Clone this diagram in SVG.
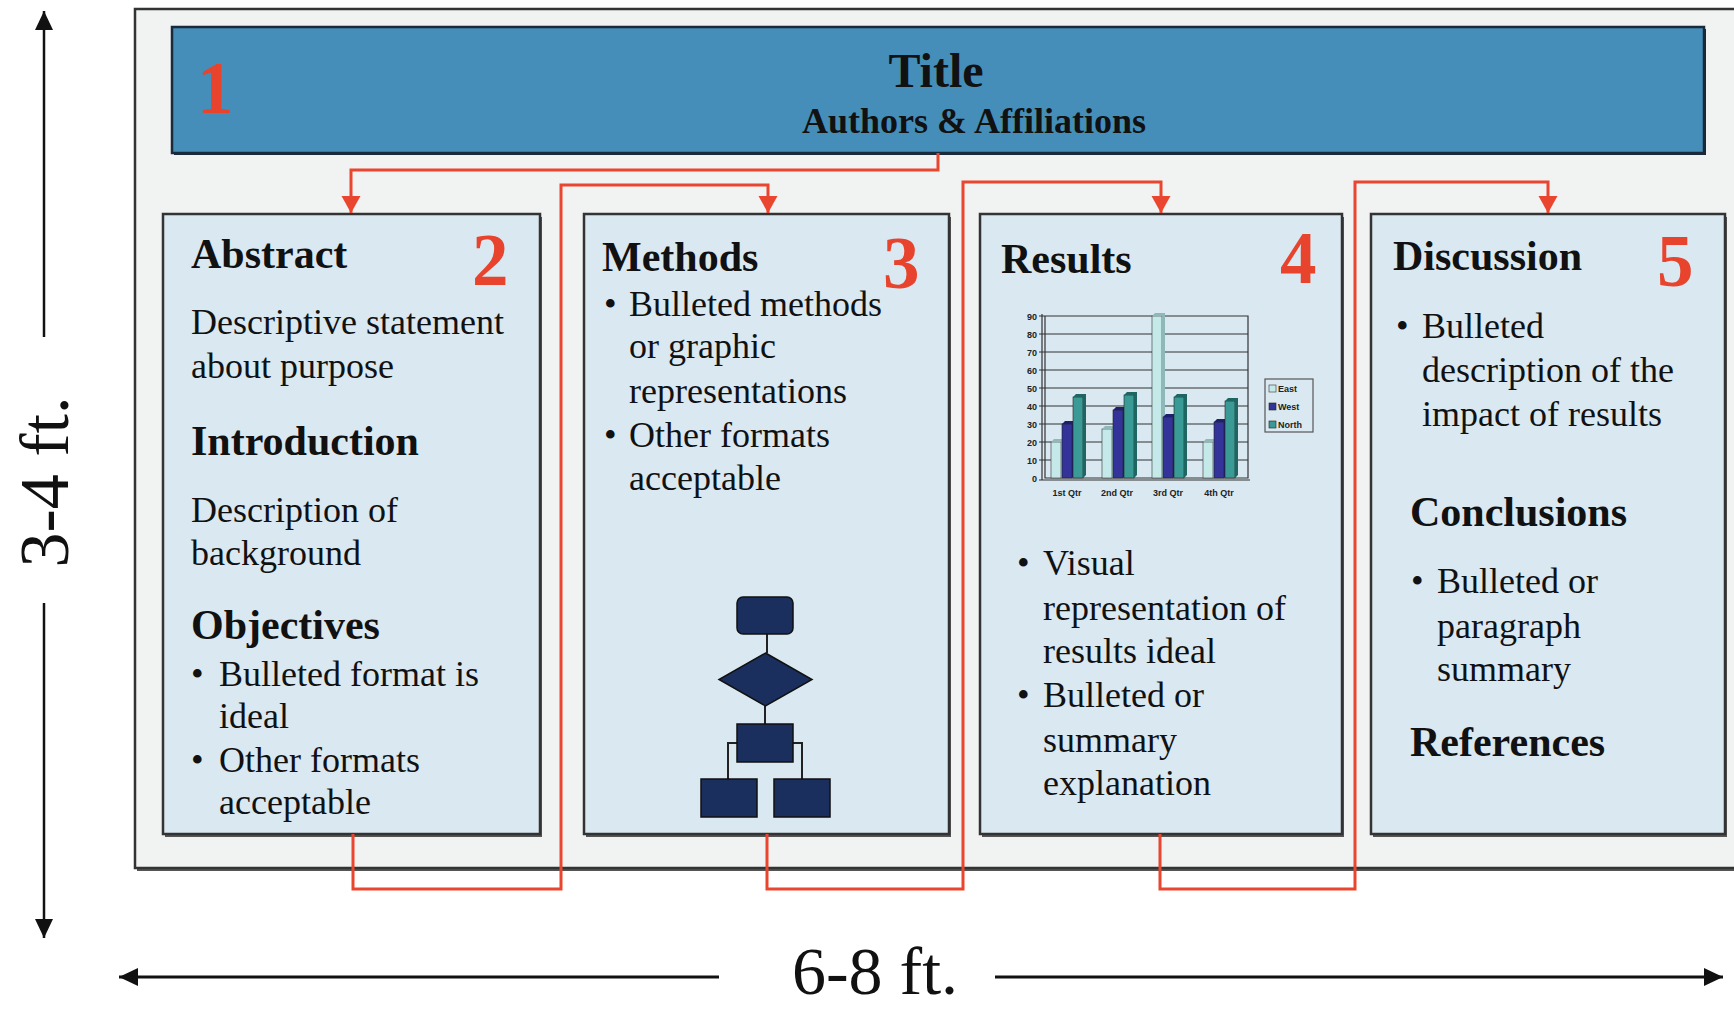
<svg xmlns="http://www.w3.org/2000/svg" width="1734" height="1009" viewBox="0 0 1734 1009">
<defs>
<style>
text{font-family:"Liberation Serif","Times New Roman",serif;fill:#111}
.h{font-weight:bold;font-size:42px}
.b{font-size:36px}
.n{font-weight:bold;font-size:73px;fill:#e8432d}
.dim{font-size:70px}
.box{fill:#d9e8f1;stroke:#333;stroke-width:2.5}
.shadow{fill:#555}
.con{fill:none;stroke:#e9452f;stroke-width:3}
.fc{fill:#1b2f5e;stroke:#111;stroke-width:1.5}
.fl{fill:none;stroke:#222;stroke-width:2}
.ct{font-family:"Liberation Sans",Arial,sans-serif;font-weight:bold;font-size:9px;fill:#222}
.grid{stroke:#333;stroke-width:1.2;fill:none}
.e{fill:#c5e8e8;stroke:#333;stroke-width:0.6}
.w{fill:#33339a;stroke:#222;stroke-width:0.6}
.nn{fill:#3a9a96;stroke:#222;stroke-width:0.6}
.ed{fill:#8fb8b8}.wd{fill:#20206a}.nd{fill:#1f6663}
</style>
<marker id="ra" markerUnits="userSpaceOnUse" markerWidth="18" markerHeight="20" refX="17" refY="9.5" orient="auto"><path d="M0,0 L17,9.5 L0,19 z" fill="#e9452f"/></marker>
<marker id="ka" markerUnits="userSpaceOnUse" markerWidth="20" markerHeight="20" refX="19" refY="9" orient="auto"><path d="M0,0 L19,9 L0,18 z" fill="#111"/></marker>
</defs>

<g id="frame">
<rect x="137" y="12" width="1620" height="859" class="shadow"/>
<rect x="135" y="9" width="1620" height="859" fill="#f1f2f2" stroke="#333" stroke-width="2.5"/>
</g>

<g id="n1">
<rect x="174" y="29" width="1532" height="126" fill="#1a2a3a"/>
<rect x="172" y="27" width="1532" height="126" fill="#458eb9" stroke="#1a2a3a" stroke-width="2.5"/>
<text x="197" y="113" class="n">1</text>
<text x="936" y="87" text-anchor="middle" font-weight="bold" font-size="48">Title</text>
<text x="974" y="133" text-anchor="middle" font-weight="bold" font-size="36">Authors &amp; Affiliations</text>
</g>

<g id="n2">
<rect x="165" y="217" width="377" height="620" class="shadow"/>
<rect x="163" y="214" width="377" height="620" class="box"/>
<text x="191" y="268" class="h">Abstract</text>
<text x="472" y="285" class="n">2</text>
<text x="191" y="334" class="b">Descriptive statement</text>
<text x="191" y="378" class="b">about purpose</text>
<text x="191" y="455" class="h">Introduction</text>
<text x="191" y="522" class="b">Description of</text>
<text x="191" y="565" class="b">background</text>
<text x="191" y="639" class="h">Objectives</text>
<text x="191" y="686" class="b">•</text>
<text x="219" y="686" class="b">Bulleted format is</text>
<text x="219" y="728" class="b">ideal</text>
<text x="191" y="772" class="b">•</text>
<text x="219" y="772" class="b">Other formats</text>
<text x="219" y="814" class="b">acceptable</text>
</g>

<g id="n3">
<rect x="586" y="217" width="365" height="620" class="shadow"/>
<rect x="584" y="214" width="365" height="620" class="box"/>
<text x="602" y="271" class="h">Methods</text>
<text x="883" y="288" class="n">3</text>
<text x="604" y="316" class="b">•</text>
<text x="629" y="316" class="b">Bulleted methods</text>
<text x="629" y="358" class="b">or graphic</text>
<text x="629" y="403" class="b">representations</text>
<text x="604" y="447" class="b">•</text>
<text x="629" y="447" class="b">Other formats</text>
<text x="629" y="490" class="b">acceptable</text>
<g id="flowchart">
<path class="fl" d="M767,634 V653 M765,706 V724 M737,743 H728 V779 M793,743 H802 V779"/>
<rect x="737" y="597" width="56" height="37" rx="6" class="fc"/>
<path d="M765.5,653 L812,679.5 L765.5,706 L719,679.5 z" class="fc"/>
<rect x="737" y="724" width="56" height="38" class="fc"/>
<rect x="701" y="779" width="56" height="38" class="fc"/>
<rect x="774" y="779" width="56" height="38" class="fc"/>
</g>
</g>

<g id="n4">
<rect x="982" y="217" width="362" height="620" class="shadow"/>
<rect x="980" y="214" width="362" height="620" class="box"/>
<text x="1001" y="273" class="h">Results</text>
<text x="1280" y="283" class="n">4</text>
<g id="chart">
<path class="grid" d="M1042,314 V480 M1045,316 V478 H1248 V316 H1045"/>
<path class="grid" d="M1045,460 H1248 M1045,442 H1248 M1045,424 H1248 M1045,406 H1248 M1045,388 H1248 M1045,370 H1248 M1045,352 H1248 M1045,334 H1248"/>
<path class="grid" d="M1039,480 H1250 M1039,316 H1045 M1039,334 H1045 M1039,352 H1045 M1039,370 H1045 M1039,388 H1045 M1039,406 H1045 M1039,424 H1045 M1039,442 H1045 M1039,460 H1045"/>
<g class="ct" text-anchor="end">
<text x="1037" y="482" class="ct">0</text>
<text x="1037" y="464" class="ct">10</text>
<text x="1037" y="446" class="ct">20</text>
<text x="1037" y="428" class="ct">30</text>
<text x="1037" y="410" class="ct">40</text>
<text x="1037" y="392" class="ct">50</text>
<text x="1037" y="374" class="ct">60</text>
<text x="1037" y="356" class="ct">70</text>
<text x="1037" y="338" class="ct">80</text>
<text x="1037" y="320" class="ct">90</text>
</g>
<g id="bars">
<rect x="1051" y="442" width="10" height="36" class="e"/><path d="M1061,442 L1064,439 V475 L1061,478 z M1051,442 L1054,439 H1064 L1061,442 z" class="ed"/>
<rect x="1062" y="424" width="10" height="54" class="w"/><path d="M1072,424 L1075,421 V475 L1072,478 z M1062,424 L1065,421 H1075 L1072,424 z" class="wd"/>
<rect x="1073" y="397" width="10" height="81" class="nn"/><path d="M1083,397 L1086,394 V475 L1083,478 z M1073,397 L1076,394 H1086 L1083,397 z" class="nd"/>
<rect x="1102" y="429" width="10" height="49" class="e"/><path d="M1112,429 L1115,426 V475 L1112,478 z M1102,429 L1105,426 H1115 L1112,429 z" class="ed"/>
<rect x="1113" y="410" width="10" height="68" class="w"/><path d="M1123,410 L1126,407 V475 L1123,478 z M1113,410 L1116,407 H1126 L1123,410 z" class="wd"/>
<rect x="1124" y="395" width="10" height="83" class="nn"/><path d="M1134,395 L1137,392 V475 L1134,478 z M1124,395 L1127,392 H1137 L1134,395 z" class="nd"/>
<rect x="1152" y="316" width="10" height="162" class="e"/><path d="M1162,316 L1165,313 V475 L1162,478 z M1152,316 L1155,313 H1165 L1162,316 z" class="ed"/>
<rect x="1163" y="417" width="10" height="61" class="w"/><path d="M1173,417 L1176,414 V475 L1173,478 z M1163,417 L1166,414 H1176 L1173,417 z" class="wd"/>
<rect x="1174" y="397" width="10" height="81" class="nn"/><path d="M1184,397 L1187,394 V475 L1184,478 z M1174,397 L1177,394 H1187 L1184,397 z" class="nd"/>
<rect x="1203" y="442" width="10" height="36" class="e"/><path d="M1213,442 L1216,439 V475 L1213,478 z M1203,442 L1206,439 H1216 L1213,442 z" class="ed"/>
<rect x="1214" y="422" width="10" height="56" class="w"/><path d="M1224,422 L1227,419 V475 L1224,478 z M1214,422 L1217,419 H1227 L1224,422 z" class="wd"/>
<rect x="1225" y="401" width="10" height="77" class="nn"/><path d="M1235,401 L1238,398 V475 L1235,478 z M1225,401 L1228,398 H1238 L1235,401 z" class="nd"/>
</g>
<text x="1067" y="496" text-anchor="middle" class="ct">1st Qtr</text>
<text x="1117" y="496" text-anchor="middle" class="ct">2nd Qtr</text>
<text x="1168" y="496" text-anchor="middle" class="ct">3rd Qtr</text>
<text x="1219" y="496" text-anchor="middle" class="ct">4th Qtr</text>
<g id="legend">
<rect x="1265" y="379" width="48" height="53" fill="#d9e8f1" stroke="#555" stroke-width="1.2"/>
<rect x="1269" y="385" width="7" height="7" class="e"/>
<text x="1278" y="392" class="ct">East</text>
<rect x="1269" y="403" width="7" height="7" class="w"/>
<text x="1278" y="410" class="ct">West</text>
<rect x="1269" y="421" width="7" height="7" class="nn"/>
<text x="1278" y="428" class="ct">North</text>
</g>
</g>
<text x="1017" y="575" class="b">•</text>
<text x="1043" y="575" class="b">Visual</text>
<text x="1043" y="620" class="b">representation of</text>
<text x="1043" y="663" class="b">results ideal</text>
<text x="1017" y="707" class="b">•</text>
<text x="1043" y="707" class="b">Bulleted or</text>
<text x="1043" y="752" class="b">summary</text>
<text x="1043" y="795" class="b">explanation</text>
</g>

<g id="n5">
<rect x="1373" y="217" width="354" height="620" class="shadow"/>
<rect x="1371" y="214" width="354" height="620" class="box"/>
<text x="1393" y="270" class="h">Discussion</text>
<text x="1657" y="286" class="n">5</text>
<text x="1396" y="338" class="b">•</text>
<text x="1422" y="338" class="b">Bulleted</text>
<text x="1422" y="382" class="b">description of the</text>
<text x="1422" y="426" class="b">impact of results</text>
<text x="1410" y="526" class="h">Conclusions</text>
<text x="1411" y="593" class="b">•</text>
<text x="1437" y="593" class="b">Bulleted or</text>
<text x="1437" y="638" class="b">paragraph</text>
<text x="1437" y="681" class="b">summary</text>
<text x="1410" y="756" class="h">References</text>
</g>

<g id="connectors">
<path class="con" d="M938,153 V170 H351 V213" marker-end="url(#ra)"/>
<path class="con" d="M353,834 V889 H561 V185 H768 V213" marker-end="url(#ra)"/>
<path class="con" d="M767,834 V889 H963 V182 H1161 V213" marker-end="url(#ra)"/>
<path class="con" d="M1160,834 V889 H1355 V182 H1548 V213" marker-end="url(#ra)"/>
</g>

<g id="dimensions">
<path d="M44,337 V11" stroke="#111" stroke-width="2.5" fill="none" marker-end="url(#ka)"/>
<path d="M44,603 V938" stroke="#111" stroke-width="2.5" fill="none" marker-end="url(#ka)"/>
<text x="68" y="482" class="dim" text-anchor="middle" transform="rotate(-90 68 482)">3-4 ft.</text>
<path d="M719,977 H119" stroke="#111" stroke-width="3" fill="none" marker-end="url(#ka)"/>
<path d="M995,977 H1723" stroke="#111" stroke-width="3" fill="none" marker-end="url(#ka)"/>
<text x="875" y="994" text-anchor="middle" font-size="68">6-8 ft.</text>
</g>
</svg>
